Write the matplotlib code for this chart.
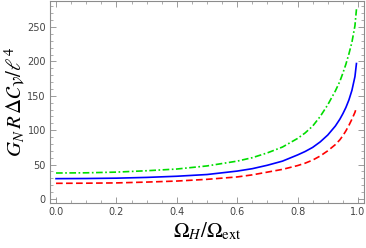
import numpy as np
import matplotlib
matplotlib.use("Agg")
import matplotlib.pyplot as plt
from matplotlib.ticker import MultipleLocator

# --------------------------------------------------
# data
# --------------------------------------------------
omega_ratio = [0.0, 0.1, 0.2, 0.3, 0.4, 0.5, 0.6, 0.65, 0.7, 0.75,
               0.8, 0.825, 0.85, 0.875, 0.9, 0.925, 0.94, 0.95, 0.96,
               0.97, 0.98, 0.99, 0.995]

dC_blue  = [29.5, 29.7, 30.2, 31.3, 33.0, 35.5, 40.5, 44.0, 49.0, 55.0,
            64.0, 69.0, 75.0, 83.0, 93.0, 106.0, 116.0, 124.0, 133.0,
            144.0, 158.0, 178.0, 197.0]
dC_green = [37.7, 38.0, 39.0, 41.0, 43.5, 48.0, 55.0, 60.0, 67.0, 75.5,
            88.0, 96.0, 106.0, 120.0, 137.0, 157.0, 171.0, 183.0, 196.0,
            211.0, 228.0, 252.0, 276.0]
dC_red   = [22.7, 22.9, 23.3, 24.5, 26.0, 28.5, 32.0, 35.0, 39.0, 43.0,
            48.5, 52.0, 56.5, 62.5, 70.0, 79.0, 86.0, 92.0, 99.0,
            107.0, 116.0, 126.0, 133.0]

# --------------------------------------------------
# style
# --------------------------------------------------
plt.rcParams["mathtext.fontset"] = "stix"
plt.rcParams["font.family"] = "DejaVu Sans"

frame_col = "#8c8c8c"
label_col = "#444444"

fig = plt.figure(figsize=(3.66, 2.48), dpi=100)
ax = fig.add_axes([50 / 366, 45.3 / 248, 314 / 366, 201.7 / 248])

ax.plot(omega_ratio, dC_blue, color="#0000ff", lw=1.2)
ax.plot(omega_ratio, dC_red, color="#ff0000", lw=1.2, ls=(0, (4, 2)))
ax.plot(omega_ratio, dC_green, color="#00dd00", lw=1.2, ls=(0, (4, 1.5, 1, 1.5)))

ax.set_xlim(-0.02, 1.02)
ax.set_ylim(-5.5, 288)

ax.xaxis.set_major_locator(MultipleLocator(0.2))
ax.xaxis.set_minor_locator(MultipleLocator(0.05))
ax.yaxis.set_major_locator(MultipleLocator(50))
ax.yaxis.set_minor_locator(MultipleLocator(10))
ax.xaxis.set_major_formatter(plt.FuncFormatter(lambda v, p: f"{v:.1f}"))

ax.tick_params(which="both", direction="in", top=True, right=True,
               color=frame_col, labelsize=7, labelcolor=label_col, pad=3)
ax.tick_params(which="major", length=4, width=0.6)
ax.tick_params(which="minor", length=2.2, width=0.5)

for sp in ax.spines.values():
    sp.set_color(frame_col)
    sp.set_linewidth(0.8)

ax.set_xlabel(r"$\Omega_H/\Omega_{\rm ext}$", fontsize=15)
ax.set_ylabel(r"$G_N\,R\,\Delta\mathcal{C}_\mathcal{V}/\ell^4$", fontsize=15)
ax.xaxis.set_label_coords(0.5, -0.086)
ax.yaxis.set_label_coords(-0.072, 0.5)

fig.savefig("out.png", dpi=100)
